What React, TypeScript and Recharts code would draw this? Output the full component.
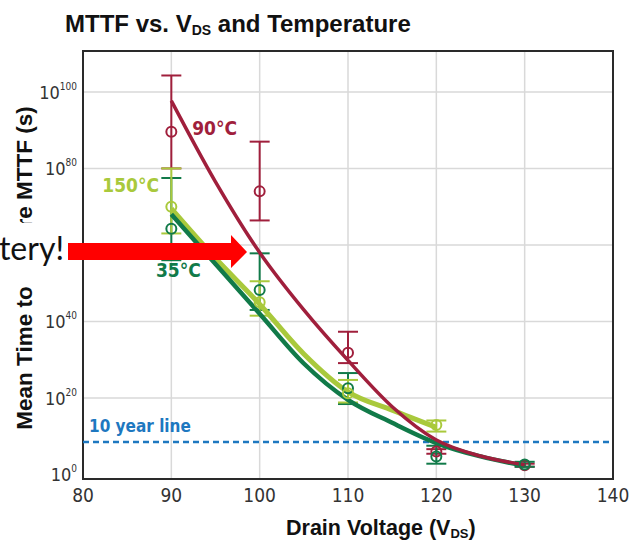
import { ComposedChart, Line, Scatter, ErrorBar, XAxis, YAxis, CartesianGrid, ReferenceLine, ReferenceArea, ReferenceDot } from 'recharts'

const RED = '#a01f3c'
const LIGHT_GREEN = '#a9c93c'
const DARK_GREEN = '#117a49'
const BLUE = '#1e78c0'
const NARROW = "'Liberation Sans Narrow', 'DejaVu Sans Condensed', 'Arial Narrow', sans-serif"
const SANS = "'Liberation Sans', Arial, sans-serif"

// eixo Y em expoentes de 10 (log10 dos segundos)
const X_TICKS = [80, 90, 100, 110, 120, 130, 140]
const Y_TICKS = [0, 20, 40, 60, 80, 100]
const Y_MIN = -1.2
const Y_MAX = 110.7
const TEN_YEAR_LINE = 8.5

// pontos medidos (média e barras de erro)
const T90_VOLTS = [90, 100, 110, 120, 130]
const T90_MEAN = [89.6, 74, 31.8, 6.0, 2.4]
const T90_LOW = [80, 66.4, 29.1, 5.4, 2.0]
const T90_HIGH = [104.3, 87, 37.3, 6.6, 2.8]

const T150_VOLTS = [90, 100, 110, 120]
const T150_MEAN = [70, 45, 21.2, 12.9]
const T150_LOW = [63, 41.5, 18.8, 11.2]
const T150_HIGH = [80, 50.5, 24.7, 14.1]

const T35_VOLTS = [90, 100, 110, 120, 130]
const T35_MEAN = [64.2, 48.2, 22.5, 4.7, 2.6]
const T35_LOW = [56, 43, 18.4, 2.8, 2.0]
const T35_HIGH = [77.5, 57.8, 26.5, 7.5, 3.3]

// curvas ajustadas
const FIT_VOLTS = [90, 95, 100, 105, 110, 115, 120, 125, 130]
const FIT_90 = [97.7, 76.5, 58, 43, 29.8, 17.7, 9, 4.8, 2.5]
const FIT_150 = [69.5, 56.5, 44.5, 31.5, 21.6, 16.8, 12.3]
const FIT_35 = [68, 55, 42, 29, 19.5, 13.5, 8.2, 4.7, 2.3]

const SERIES_LABELS = [
  { text: '90°C', x: 94.9, y: 90.6, color: RED },
  { text: '150°C', x: 85.4, y: 75.7, color: LIGHT_GREEN },
  { text: '35°C', x: 90.8, y: 53.5, color: DARK_GREEN },
]

function points(volts: number[], mean: number[], low: number[], high: number[]) {
  return volts.map((x, i) => ({ x, y: mean[i], err: [mean[i] - low[i], high[i] - mean[i]] }))
}

function curve(values: number[]) {
  return values.map((y, i) => ({ x: FIT_VOLTS[i], y }))
}

function hollowCircle(color: string) {
  return (props: any) => <circle cx={props.cx} cy={props.cy} r={5} fill="none" stroke={color} strokeWidth={2} />
}

function YTick({ x, y, payload }: any) {
  return (
    <text x={x + 2} y={y + 7} textAnchor="end" fill="#333" fontFamily={NARROW} fontSize={18}>
      10
      <tspan fontSize={10} dy={-9}>{payload.value}</tspan>
    </text>
  )
}

function XTick({ x, y, payload }: any) {
  return (
    <text x={x} y={y} dy={15} textAnchor="middle" fill="#333" fontFamily={NARROW} fontSize={19}>
      {payload.value}
    </text>
  )
}

function SeriesLabel({ viewBox, text, color }: any) {
  return (
    <text x={viewBox.x} y={viewBox.y} dy={7} textAnchor="middle" fill={color} fontFamily={NARROW} fontWeight="bold" fontSize={19}>
      {text}
    </text>
  )
}

function TenYearLabel({ viewBox }: any) {
  return (
    <text x={viewBox.x + 6} y={viewBox.y - 10} fill={BLUE} fontFamily={NARROW} fontWeight="bold" fontSize={17}>
      10 year line
    </text>
  )
}

export default function App() {
  return (
    <div style={{ position: 'absolute', left: 0, top: 0, width: 638, height: 545, background: '#fff' }}>
      <ComposedChart width={638} height={545} margin={{ top: 51, right: 25, bottom: 0, left: 0 }}>
        <CartesianGrid stroke="#d9d9d9" strokeWidth={1.5} horizontalValues={[20, 40, 60, 80, 100]} verticalValues={[90, 100, 110, 120, 130]} />
        <XAxis type="number" dataKey="x" domain={[80, 140]} ticks={X_TICKS} axisLine={false} tickLine={false} height={66} tick={<XTick />} allowDataOverflow />
        <YAxis type="number" dataKey="y" domain={[Y_MIN, Y_MAX]} ticks={Y_TICKS} axisLine={false} tickLine={false} width={83} tick={<YTick />} allowDataOverflow />
        <ReferenceLine y={TEN_YEAR_LINE} stroke={BLUE} strokeWidth={2.5} strokeDasharray="6 4" label={<TenYearLabel />} />

        <Scatter data={points(T90_VOLTS, T90_MEAN, T90_LOW, T90_HIGH)} dataKey="y" shape={hollowCircle(RED)} isAnimationActive={false}>
          <ErrorBar dataKey="err" direction="y" width={10} stroke={RED} strokeWidth={2} isAnimationActive={false} />
        </Scatter>
        <Scatter data={points(T35_VOLTS, T35_MEAN, T35_LOW, T35_HIGH)} dataKey="y" shape={hollowCircle(DARK_GREEN)} isAnimationActive={false}>
          <ErrorBar dataKey="err" direction="y" width={10} stroke={DARK_GREEN} strokeWidth={2} isAnimationActive={false} />
        </Scatter>
        <Scatter data={points(T150_VOLTS, T150_MEAN, T150_LOW, T150_HIGH)} dataKey="y" shape={hollowCircle(LIGHT_GREEN)} isAnimationActive={false}>
          <ErrorBar dataKey="err" direction="y" width={10} stroke={LIGHT_GREEN} strokeWidth={2} isAnimationActive={false} />
        </Scatter>

        <Line data={curve(FIT_150)} dataKey="y" type="monotone" stroke={LIGHT_GREEN} strokeWidth={5} dot={false} activeDot={false} isAnimationActive={false} />
        <Line data={curve(FIT_35)} dataKey="y" type="monotone" stroke={DARK_GREEN} strokeWidth={4.5} dot={false} activeDot={false} isAnimationActive={false} />
        <Line data={curve(FIT_90)} dataKey="y" type="monotone" stroke={RED} strokeWidth={3.5} dot={false} activeDot={false} isAnimationActive={false} />

        {SERIES_LABELS.map((l) => (
          <ReferenceDot key={l.text} x={l.x} y={l.y} r={0} stroke="none" fill="none" label={<SeriesLabel text={l.text} color={l.color} />} />
        ))}
        <ReferenceArea x1={80} x2={140} y1={Y_MIN} y2={Y_MAX} fill="none" stroke="#2a2a2a" strokeWidth={2} />
      </ComposedChart>

      {/* sobreposição do slide: caixa "tery!" e seta vermelha */}
      <svg width={638} height={545} style={{ position: 'absolute', left: 0, top: 0, pointerEvents: 'none' }}>
        <text x={65} y={32} fontFamily={SANS} fontWeight="bold" fontSize={24} fill="#111">
          MTTF vs. V<tspan fontSize={14} dy={3}>DS</tspan>
          <tspan dy={-3}> and Temperature</tspan>
        </text>
        <text x={286} y={535} fontFamily={SANS} fontWeight="bold" fontSize={21.5} fill="#111">
          Drain Voltage (V<tspan fontSize={13} dy={3}>DS</tspan>
          <tspan dy={-3}>)</tspan>
        </text>
        <text transform="translate(32,268) rotate(-90)" textAnchor="middle" fontFamily={SANS} fontWeight="bold" fontSize={22.5} fill="#111">
          Mean Time to Failure MTTF (s)
        </text>
        <rect x={0} y={223} width={81} height={60} fill="#fff" />
        <text x={64} y={260} textAnchor="end" fontFamily="Lato, 'Open Sans', sans-serif" fontSize={32} fill="#111">
          tery!
        </text>
        <polygon points="68,243 231,243 231,235 247,252 231,268 231,260 68,260" fill="#ff0000" />
      </svg>
    </div>
  )
}
